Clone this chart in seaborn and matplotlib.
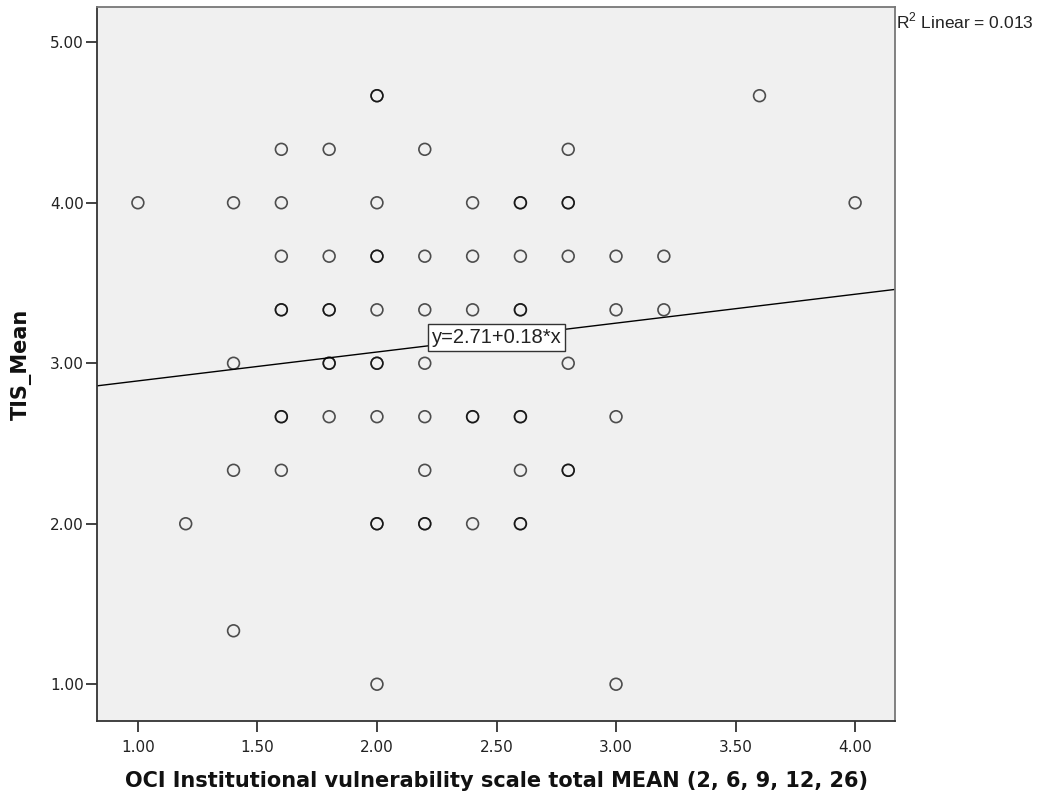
import numpy as np
import pandas as pd
import matplotlib
matplotlib.use("Agg")
import matplotlib.pyplot as plt
import seaborn as sns
from matplotlib.ticker import FormatStrFormatter

# ---- data (repeated pairs = overlapping cases) ----
oci_mean = [
    1.0,
    1.2,
    1.4, 1.4, 1.4, 1.4,
    1.6, 1.6, 1.6, 1.6, 1.6, 1.6, 1.6, 1.6,
    1.8, 1.8, 1.8, 1.8, 1.8, 1.8, 1.8,
    2.0, 2.0, 2.0, 2.0, 2.0, 2.0, 2.0, 2.0, 2.0, 2.0, 2.0, 2.0,
    2.2, 2.2, 2.2, 2.2, 2.2, 2.2, 2.2, 2.2,
    2.4, 2.4, 2.4, 2.4, 2.4, 2.4,
    2.6, 2.6, 2.6, 2.6, 2.6, 2.6, 2.6, 2.6, 2.6, 2.6,
    2.8, 2.8, 2.8, 2.8, 2.8, 2.8, 2.8,
    3.0, 3.0, 3.0, 3.0,
    3.2, 3.2,
    3.6,
    4.0,
]
tis_mean = [
    4.000,
    2.000,
    4.000, 3.000, 2.333, 1.333,
    4.333, 4.000, 3.667, 3.333, 3.333, 2.667, 2.667, 2.333,
    4.333, 3.667, 3.333, 3.333, 3.000, 3.000, 2.667,
    4.667, 4.667, 4.000, 3.667, 3.667, 3.333, 3.000, 3.000, 2.667, 2.000, 2.000, 1.000,
    4.333, 3.667, 3.333, 3.000, 2.667, 2.333, 2.000, 2.000,
    4.000, 3.667, 3.333, 2.667, 2.667, 2.000,
    4.000, 4.000, 3.667, 3.333, 3.333, 2.667, 2.667, 2.333, 2.000, 2.000,
    4.333, 4.000, 4.000, 3.667, 3.000, 2.333, 2.333,
    3.667, 3.333, 2.667, 1.000,
    3.667, 3.333,
    4.667,
    4.000,
]
fit_intercept = 2.71
fit_slope = 0.18
r2_linear = 0.013
x_ticks = [1.0, 1.5, 2.0, 2.5, 3.0, 3.5, 4.0]
y_ticks = [1.0, 2.0, 3.0, 4.0, 5.0]
x_label = "OCI Institutional vulnerability scale total MEAN (2, 6, 9, 12, 26)"
y_label = "TIS_Mean"

df = pd.DataFrame({"OCI": oci_mean, "TIS": tis_mean})

sns.set_style("white")
plt.rcParams["font.family"] = ["DejaVu Sans"]
plt.rcParams["mathtext.fontset"] = "custom"
plt.rcParams["mathtext.rm"] = "Liberation Sans"

fig = plt.figure(figsize=(10.45, 8.01), dpi=100)
ax = fig.add_axes([0.0933, 0.0999, 0.7632, 0.8914])
ax.set_facecolor("#F0F0F0")

xlim = (0.831, 4.167)
ylim = (0.771, 5.22)

sns.scatterplot(data=df, x="OCI", y="TIS", ax=ax, marker="o", s=72,
                facecolor="none", edgecolor=(0, 0, 0, 0.68), linewidth=1.2,
                legend=False, zorder=3)

line_x = np.array(xlim)
line_df = pd.DataFrame({"x": line_x, "y": fit_intercept + fit_slope * line_x})
sns.lineplot(data=line_df, x="x", y="y", ax=ax, color="black", linewidth=1.0, zorder=2)

mid_x = 2.5
ax.text(mid_x, fit_intercept + fit_slope * mid_x,
        f"y={fit_intercept:.2f}+{fit_slope:.2f}*x",
        ha="center", va="center", fontsize=14.5, family="Liberation Sans",
        color="#222222", zorder=5,
        bbox=dict(boxstyle="square,pad=0.2", facecolor="white",
                  edgecolor="#333333", linewidth=1.0))

ax.set_xlim(*xlim)
ax.set_ylim(*ylim)
ax.set_xticks(x_ticks)
ax.set_yticks(y_ticks)
ax.xaxis.set_major_formatter(FormatStrFormatter("%.2f"))
ax.yaxis.set_major_formatter(FormatStrFormatter("%.2f"))
ax.tick_params(axis="both", which="major", direction="out", length=8, width=1.3,
               color="#333333", labelsize=11, labelcolor="#222222",
               bottom=True, left=True, top=False, right=False)
ax.tick_params(axis="x", pad=6)
ax.tick_params(axis="y", pad=2)

ax.set_xlabel(x_label, fontsize=15, fontweight="bold", color="#111111")
ax.set_ylabel(y_label, fontsize=15, fontweight="bold", color="#111111")
ax.xaxis.set_label_coords(0.5, -0.07)
ax.yaxis.set_label_coords(-0.082, 0.5)

for side in ["left", "bottom"]:
    ax.spines[side].set_color("#333333")
    ax.spines[side].set_linewidth(1.3)
for side in ["top", "right"]:
    ax.spines[side].set_color("#777777")
    ax.spines[side].set_linewidth(1.3)

fig.text(896 / 1045, 1 - 21 / 801, f"R$^2$ Linear = {r2_linear:.3f}",
         ha="left", va="center", fontsize=12.5, family="Liberation Sans",
         color="#222222")

fig.savefig("out.png", dpi=100, facecolor="white")
